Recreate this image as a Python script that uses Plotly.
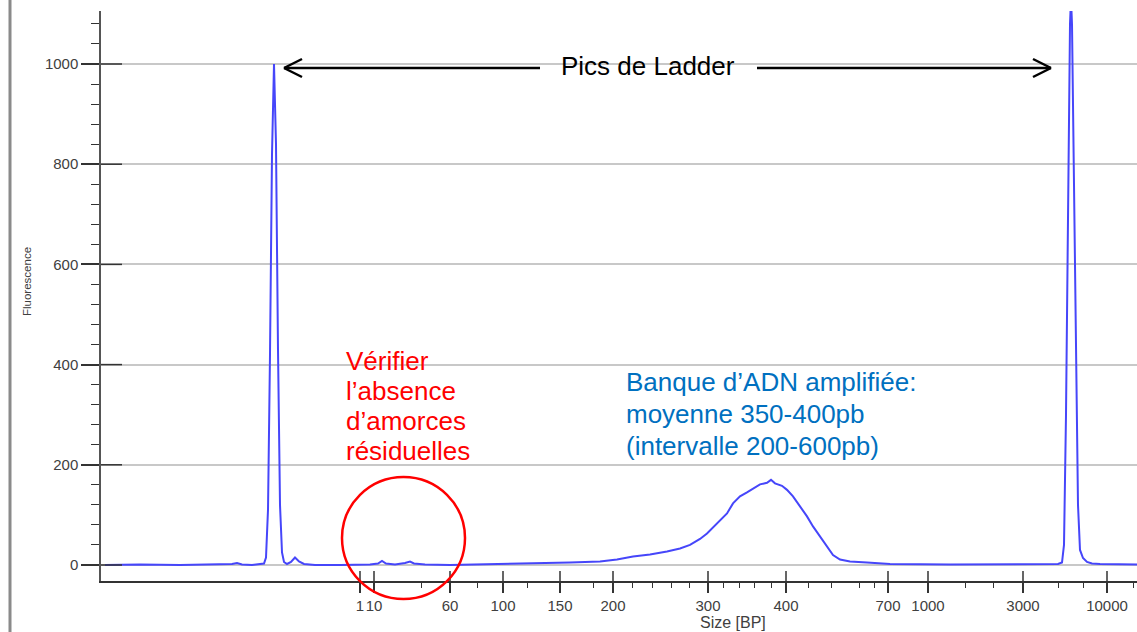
import plotly.graph_objects as go

# ── electropherogram in three stretches ──
# migration position (arbitrary units along the run) and fluorescence
lower_ladder_pos = [105, 140, 180, 220, 232, 237, 242, 252, 260, 264, 266, 268, 270, 272,
                    274, 276, 278, 280, 282, 284, 287, 291, 295, 299, 304, 315, 340, 370,
                    378, 382, 386, 395, 405, 410, 414, 425, 450, 480, 510, 540, 570]
lower_ladder_fluo = [0, 1, 0, 1, 2, 4, 1, 0, 1, 3, 15, 110, 420, 820,
                     1000, 840, 430, 120, 25, 6, 2, 6, 15, 7, 2, 0, 0, 1,
                     3, 8, 3, 1, 4, 7, 3, 1, 0, 1, 2, 3, 5]

library_pos = [600, 617, 633, 650, 667, 680, 690, 700, 707, 717, 727, 733, 740, 747,
               753, 760, 767, 771, 775, 782, 787, 793, 800, 807, 813, 820, 827, 833,
               840, 850, 867, 890]
library_fluo = [7, 11, 17, 21, 27, 33, 40, 52, 63, 83, 103, 123, 137, 145,
                153, 161, 164, 170, 163, 158, 150, 137, 117, 97, 77, 57, 37, 20,
                11, 7, 5, 2]

upper_ladder_pos = [950, 1000, 1040, 1058, 1062, 1064, 1066, 1068, 1070, 1071, 1072,
                    1074, 1076, 1078, 1080, 1083, 1087, 1092, 1100, 1120, 1137]
upper_ladder_fluo = [1, 1, 1, 2, 5, 40, 300, 760, 1080, 1130, 1080,
                     760, 380, 120, 30, 14, 6, 3, 2, 1, 1]

migration = lower_ladder_pos + library_pos + upper_ladder_pos
fluorescence = lower_ladder_fluo + library_fluo + upper_ladder_fluo

# ── size axis (bp), placed along the migration scale ──
size_tick_pos = [360, 374, 450, 503, 560, 613, 708, 786, 888, 928, 1023, 1107]
size_tick_text = ["1", "10", "60", "100", "150", "200", "300", "400", "700",
                  "1000", "3000", "10000"]
size_minor_pos = [421, 477, 527, 593, 632, 652, 671, 689, 723, 739, 754, 771,
                  808, 831, 859, 874, 965, 993, 1058, 1083, 1133]
fluo_ticks = [0, 200, 400, 600, 800, 1000]

# ── annotation texts ──
ladder_label = "Pics de Ladder"
primer_lines = ["Vérifier", "l’absence", "d’amorces", "résiduelles"]
library_lines = ["Banque d’ADN amplifiée:", "moyenne 350-400pb", "(intervalle 200-600pb)"]

# page geometry (px) used to place decorations
W, H = 1137, 632
L, T, B = 101, 11, 581
PW, PH = W - L, B - T


def px(xp):
    return (xp - L) / PW


def py(yp):
    return (B - yp) / PH


FONT = "Liberation Sans, Arial, sans-serif"
AXIS_COL = "#333333"

fig = go.Figure()
fig.add_trace(go.Scatter(
    x=migration, y=fluorescence, mode="lines",
    line=dict(color="rgb(70,70,250)", width=2),
    hoverinfo="skip", showlegend=False,
))

fig.update_layout(
    width=W, height=H,
    margin=dict(l=L, r=0, t=T, b=H - B),
    paper_bgcolor="white", plot_bgcolor="white",
    font=dict(family=FONT, color="#404040"),
    showlegend=False,
)

fig.update_xaxes(
    range=[L, W], showgrid=False, zeroline=False,
    showline=True, linecolor=AXIS_COL, linewidth=1.5,
    tickmode="array", tickvals=size_tick_pos, ticktext=size_tick_text,
    tickangle=0,
    ticks="outside", ticklen=10, tickwidth=1.5, tickcolor=AXIS_COL,
    tickfont=dict(size=15, color="#404040"),
    minor=dict(tickmode="array", tickvals=size_minor_pos, ticks="outside",
               ticklen=5, tickwidth=1.2, tickcolor=AXIS_COL),
)
fig.update_yaxes(
    range=[(565 - B) / 0.501, (565 - T) / 0.501],
    showgrid=True, gridcolor="#c8c8c8", gridwidth=1.5, zeroline=False,
    showline=True, linecolor="#555555", linewidth=1.5,
    tickmode="array", tickvals=fluo_ticks,
    ticks="outside", ticklen=18, tickwidth=1.5, tickcolor=AXIS_COL,
    tickfont=dict(size=15, color="#404040"),
    minor=dict(dtick=40, tick0=0, ticks="outside", ticklen=8, tickwidth=1.2,
               tickcolor=AXIS_COL, showgrid=False),
)

shapes = []
# inner half of the major ticks (they cross the axis lines)
for v in size_tick_pos:
    shapes.append(dict(type="line", xref="x", yref="paper", x0=v, x1=v,
                       y0=0, y1=10 / PH, line=dict(color=AXIS_COL, width=1.5)))
for v in fluo_ticks:
    shapes.append(dict(type="line", xref="paper", yref="y", x0=0, x1=21 / PW,
                       y0=v, y1=v, line=dict(color=AXIS_COL, width=1.5)))

# outer frame line on the left
shapes.append(dict(type="line", xref="paper", yref="paper", x0=px(10), x1=px(10),
                   y0=py(H + 2), y1=py(-2), line=dict(color="#8a8a8a", width=3)))

# double arrow for the ladder peaks
arrow_y = py(68)
for x0, x1 in [(284, 540), (757, 1051)]:
    shapes.append(dict(type="line", xref="paper", yref="paper", x0=px(x0), x1=px(x1),
                       y0=arrow_y, y1=arrow_y, line=dict(color="black", width=2.5)))
for tip, back in [(284, 302), (1051, 1033)]:
    for dy in (-9, 9):
        shapes.append(dict(type="line", xref="paper", yref="paper",
                           x0=px(tip), x1=px(back), y0=arrow_y, y1=py(68 + dy),
                           line=dict(color="black", width=2.5)))

# red circle around the primer region
shapes.append(dict(type="circle", xref="paper", yref="paper",
                   x0=px(342), x1=px(465), y0=py(599), y1=py(477),
                   line=dict(color="#ff0000", width=2.5)))
fig.update_layout(shapes=shapes)

ann = []
ann.append(dict(text=ladder_label, xref="paper", yref="paper", x=px(648), y=py(66),
                xanchor="center", yanchor="middle", showarrow=False,
                font=dict(size=26, color="black", family=FONT)))
for i, line in enumerate(primer_lines):
    ann.append(dict(text=line, xref="paper", yref="paper", x=px(344), y=py(361 + 30 * i),
                    xanchor="left", yanchor="middle", showarrow=False,
                    font=dict(size=26, color="#ff0000", family=FONT)))
for i, line in enumerate(library_lines):
    ann.append(dict(text=line, xref="paper", yref="paper", x=px(624), y=py(382 + 32 * i),
                    xanchor="left", yanchor="middle", showarrow=False,
                    font=dict(size=26, color="#0070c0", family=FONT)))
ann.append(dict(text="Size [BP]", xref="paper", yref="paper", x=px(733), y=py(622),
                xanchor="center", yanchor="middle", showarrow=False,
                font=dict(size=16, color="#404040", family=FONT)))
ann.append(dict(text="Fluorescence", xref="paper", yref="paper", x=px(27), y=py(282),
                xanchor="center", yanchor="middle", showarrow=False, textangle=-90,
                font=dict(size=11.5, color="#404040", family=FONT)))
fig.update_layout(annotations=ann)

fig.write_html(
    "out.html",
    config={"displayModeBar": False},
    post_script="document.body.style.margin='0';document.body.style.overflow='hidden';",
)
